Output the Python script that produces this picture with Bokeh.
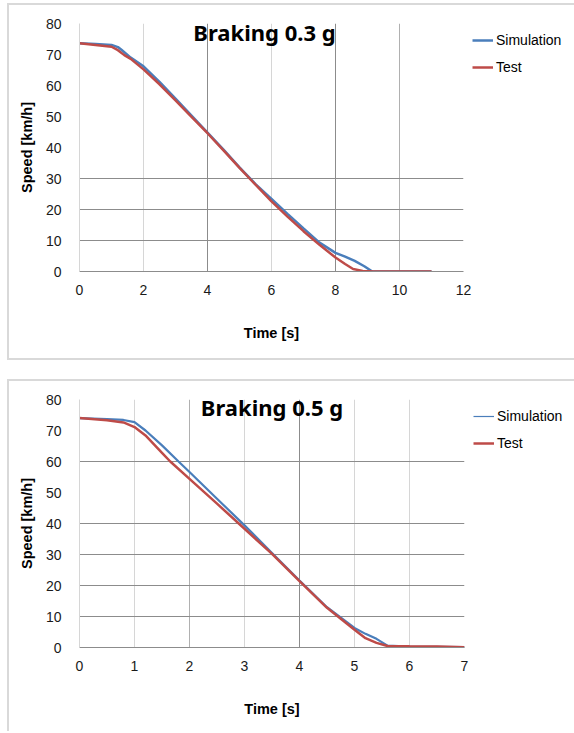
import math
from bokeh.plotting import figure
from bokeh.layouts import column
from bokeh.models import Range1d, FixedTicker, Grid, Legend, LegendItem, Label
from bokeh.embed import file_html
from bokeh.resources import INLINE

# ---------------- data: Braking 0.3 g ----------------
t_sim_03 = [0, 0.5, 1.0, 1.2, 1.3, 1.6, 2.0, 2.5, 3.0, 3.5, 4.0, 4.5, 5.0, 5.5,
            6.0, 6.5, 7.0, 7.5, 8.0, 8.3, 8.6, 8.9, 9.15, 10.0, 11.0]
sim_03 = [73.6, 73.4, 73.1, 72.4, 71.6, 69.0, 66.2, 61.2, 55.8, 50.3, 44.8, 39.3, 33.6, 28.2,
          23.4, 18.6, 13.9, 9.3, 6.0, 4.8, 3.4, 1.7, 0.0, 0.0, 0.0]
t_test_03 = [0, 0.5, 1.0, 1.2, 1.4, 1.6, 2.0, 2.5, 3.0, 3.5, 4.0, 4.5, 5.0, 5.5,
             6.0, 6.5, 7.0, 7.5, 8.0, 8.3, 8.55, 8.85, 9.2, 10.0, 11.0]
test_03 = [73.6, 73.1, 72.5, 71.4, 69.8, 68.6, 65.2, 60.4, 55.2, 49.9, 44.6, 39.1, 33.4, 28.0,
           22.6, 17.7, 13.0, 8.6, 4.5, 2.4, 0.8, 0.2, 0.0, 0.0, 0.0]

# ---------------- data: Braking 0.5 g ----------------
t_sim_05 = [0, 0.5, 0.8, 1.0, 1.2, 1.5, 1.8, 2.0, 2.5, 3.0, 3.5, 4.0, 4.5, 5.0,
            5.2, 5.4, 5.6, 6.0, 6.5, 7.0]
sim_05 = [74.0, 73.7, 73.4, 72.7, 70.0, 65.2, 60.0, 56.6, 48.0, 39.4, 30.5, 21.6, 13.0, 6.3,
          4.4, 2.8, 0.6, 0.3, 0.2, 0.1]
t_test_05 = [0, 0.5, 0.8, 1.0, 1.2, 1.5, 1.65, 2.0, 2.5, 3.0, 3.5, 4.0, 4.5, 5.0,
             5.2, 5.4, 5.6, 6.0, 6.5, 7.0]
test_05 = [74.0, 73.3, 72.6, 71.1, 68.4, 62.8, 60.0, 54.4, 46.4, 38.3, 30.2, 21.4, 12.8, 5.7,
           3.0, 1.5, 0.5, 0.4, 0.3, 0.1]

x_ticks_03 = [0, 2, 4, 6, 8, 10, 12]
x_ticks_05 = [0, 1, 2, 3, 4, 5, 6, 7]
y_ticks = [0, 10, 20, 30, 40, 50, 60, 70, 80]

titles = ["Braking 0.3 g", "Braking 0.5 g"]
series_names = ["Simulation", "Test"]

BLUE = "#4a7ebb"
RED = "#be4b48"
DARK = "#8c8c8c"
MID = "#b0b0b0"
LIGHT = "#d6d6d6"
BOX = "#d9d9d9"
FONT = "Liberation Sans"

SHADOW_TOP = ", ".join(s + " " + BOX for s in
                       ["-2px 0 0 0", "0 -2px 0 0", "0 2px 0 0", "-2px -2px 0 0", "-2px 2px 0 0"])
SHADOW_BOT = ", ".join(s + " " + BOX for s in ["-2px 0 0 0", "0 -2px 0 0", "-2px -2px 0 0"])


def make_chart(xmax, xticks, t_sim, sim, t_test, test, title, title_x, title_y,
               grids_v, grids_h, margin, min_bottom, frame_w, sim_w, sim_legend_w,
               right_border, shadow):
    p = figure(frame_width=frame_w, frame_height=248,
               min_border_left=70, min_border_right=right_border,
               min_border_top=18, min_border_bottom=min_bottom,
               x_range=Range1d(0, xmax), y_range=Range1d(0, 80),
               output_backend="svg", toolbar_location=None,
               margin=margin, styles={"box-shadow": shadow})
    p.outline_line_color = None
    p.background_fill_color = "white"
    p.border_fill_color = "white"
    p.xgrid.visible = False
    p.ygrid.visible = False

    for ticks, col in grids_v:
        p.add_layout(Grid(dimension=0, ticker=FixedTicker(ticks=ticks),
                          grid_line_color=col, grid_line_width=1))
    for ticks, col in grids_h:
        p.add_layout(Grid(dimension=1, ticker=FixedTicker(ticks=ticks),
                          grid_line_color=col, grid_line_width=1))

    p.xaxis.ticker = FixedTicker(ticks=xticks)
    p.yaxis.ticker = FixedTicker(ticks=y_ticks)
    for ax in (p.xaxis[0], p.yaxis[0]):
        ax.major_tick_line_color = None
        ax.minor_tick_line_color = None
        ax.major_label_text_font = FONT
        ax.major_label_text_font_size = "14px"
        ax.major_label_text_color = "#1a1a1a"
        ax.axis_label_text_font = FONT
        ax.axis_label_text_font_style = "bold"
        ax.axis_label_text_font_size = "14.5px"
        ax.axis_label_text_color = "#000000"
    p.xaxis.axis_line_color = DARK
    p.yaxis.axis_line_color = LIGHT
    p.xaxis.axis_label = "Time [s]"
    p.yaxis.axis_label = "Speed [km/h]"
    p.xaxis.major_label_standoff = 7
    p.yaxis.major_label_standoff = 12
    p.xaxis.axis_label_standoff = 27
    p.yaxis.axis_label_standoff = 8

    r_sim = p.line(t_sim, sim, line_color=BLUE, line_width=sim_w)
    r_test = p.line(t_test, test, line_color=RED, line_width=2.5)
    if sim_legend_w != sim_w:
        r_sim_leg = p.line([math.nan], [math.nan], line_color=BLUE, line_width=sim_legend_w)
    else:
        r_sim_leg = r_sim

    legend = Legend(items=[LegendItem(label=series_names[0], renderers=[r_sim_leg]),
                           LegendItem(label=series_names[1], renderers=[r_test])],
                    location="top_left", orientation="vertical",
                    glyph_width=21, glyph_height=16, label_height=16, label_width=10,
                    spacing=11, padding=0, margin=9, label_standoff=3,
                    label_text_font=FONT, label_text_font_size="14px",
                    label_text_color="#000000",
                    border_line_alpha=0, background_fill_alpha=0)
    p.add_layout(legend, "right")

    p.add_layout(Label(x=title_x, y=title_y, text=title, text_align="center",
                       text_baseline="middle", text_font="Noto Sans",
                       text_font_style="bold", text_font_size="22px",
                       text_color="#000000"))
    return p


p1 = make_chart(12, x_ticks_03, t_sim_03, sim_03, t_test_03, test_03, titles[0], 5.78, 77.2,
                grids_v=[([2, 6], LIGHT), ([10, 12], MID), ([4, 8], DARK)],
                grids_h=[([80], MID), ([10, 20, 30], DARK)],
                margin=(5, 0, 0, 9), min_bottom=87, frame_w=384,
                sim_w=2.5, sim_legend_w=2.5, right_border=111, shadow=SHADOW_TOP)
p2 = make_chart(7, x_ticks_05, t_sim_05, sim_05, t_test_05, test_05, titles[1], 3.5, 77.6,
                grids_v=[([1, 3, 5, 6], LIGHT), ([2, 7], MID), ([4], DARK)],
                grids_h=[([10, 20, 30, 40, 60], DARK)],
                margin=(23, 0, 0, 9), min_bottom=84, frame_w=385,
                sim_w=2.2, sim_legend_w=1.2, right_border=110, shadow=SHADOW_BOT)

layout = column(p1, p2, spacing=0)
open("out.html", "w").write(file_html(layout, INLINE))
